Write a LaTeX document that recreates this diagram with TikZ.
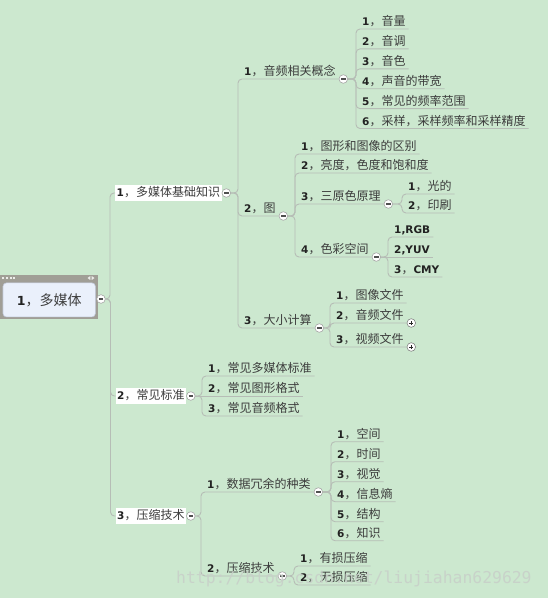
\documentclass[tikz,border=0pt]{standalone}
\usepackage{fontspec}
\usetikzlibrary{calc}
\newfontfamily\cjkf{Noto Sans CJK SC}
\newfontfamily\latf{DejaVu Sans}
\newfontfamily\wmf{DejaVu Sans Mono}
\definecolor{bgc}{RGB}{204,232,207}
\definecolor{linec}{RGB}{182,189,182}
\definecolor{txtc}{RGB}{60,60,60}
\definecolor{numc}{RGB}{34,34,34}
\definecolor{framec}{RGB}{160,158,150}
\definecolor{innerc}{RGB}{234,240,251}
\definecolor{innerb}{RGB}{196,204,222}
\definecolor{btnb}{RGB}{165,165,165}
\definecolor{btnm}{RGB}{80,80,80}
\definecolor{wmc}{RGB}{200,208,201}
\newcommand\nm[1]{{\latf\bfseries\fontsize{10.5}{12}\selectfont\color{numc}#1}}
\begin{document}
\begin{tikzpicture}[x=1pt,y=-1pt,
 conn/.style={draw=linec, line width=0.9pt, rounded corners=4pt},
 item/.style={anchor=south west, inner xsep=3pt, inner ysep=0pt, text height=9.5pt, text depth=3pt, font=\cjkf\fontsize{12}{14}\selectfont, text=txtc},
 lone/.style={anchor=west, fill=white, inner xsep=1.5pt, inner ysep=1.5pt, text height=10pt, text depth=2.5pt, font=\cjkf\fontsize{12}{14}\selectfont, text=txtc},
 btn/.style={circle, draw=btnb, fill=white, line width=0.6pt, minimum size=8.6pt, inner sep=0pt, anchor=west},
 minusbtn/.style={btn, path picture={\draw[btnm, line width=1.3pt] ([xshift=-2.2pt]path picture bounding box.center) -- ([xshift=2.2pt]path picture bounding box.center);}},
 plusbtn/.style={btn, draw=black!55, line width=0.5pt, path picture={\draw[black!85, line width=0.9pt] ([xshift=-2.2pt]path picture bounding box.center) -- ([xshift=2.2pt]path picture bounding box.center) ([yshift=-2.2pt]path picture bounding box.center) -- ([yshift=2.2pt]path picture bounding box.center);}},
]
\fill[bgc] (0,0) rectangle (548,598);
\useasboundingbox (0,0) rectangle (548,598);

% root
\node[fill=framec, minimum width=97.7pt, minimum height=44pt, inner sep=0pt, anchor=north west] (rootf) at (0,275) {};
\node[fill=innerc, draw=innerb, line width=0.6pt, rounded corners=3.5pt, minimum width=92.4pt, minimum height=34pt, inner sep=0pt, anchor=north west, font=\cjkf\fontsize{14}{16}\selectfont, text=txtc] (root) at (2.7,282.6) {{\latf\bfseries\fontsize{12.5}{14}\selectfont\color{numc}1}，多媒体};
\foreach \dx in {3,6.8,10.6,14.4} \fill[white!80!framec] (\dx-1,277) rectangle (\dx+1,279);
\fill[white!80!framec] (87.5,278) -- (90.3,276) -- (90.3,280) -- cycle;
\fill[white!80!framec] (94.5,278) -- (91.7,276) -- (91.7,280) -- cycle;
\node[minusbtn, anchor=center] (croot) at (101,299) {};

% level 1
\node[lone] (A) at (115,193) {\nm{1}，多媒体基础知识};
\node[minusbtn] (cA) at (A.east) {};
\node[lone] (B) at (115.5,396) {\nm{2}，常见标准};
\node[minusbtn] (cB) at (B.east) {};
\node[lone] (C) at (115.5,516) {\nm{3}，压缩技术};
\node[minusbtn] (cC) at (C.east) {};
\foreach \n in {A,B,C} \draw[conn] (croot.east) -| ([xshift=-5pt]\n.west) -- (\n.west);

% level 2 under A
\node[item] (a1) at (241,79) {\nm{1}，音频相关概念};
\node[minusbtn] (ca1) at (a1.south east) {};
\node[item] (a2) at (241,216) {\nm{2}，图};
\node[minusbtn] (ca2) at (a2.south east) {};
\node[item] (a3) at (241,328) {\nm{3}，大小计算};
\node[minusbtn] (ca3) at (a3.south east) {};
\foreach \n in {a1,a2,a3} \draw[conn] (cA.east) -| ([xshift=-3pt]\n.south west) -- (\n.south east);

% under a1
\node[item] (a11) at (359,29) {\nm{1}，音量};
\node[item] (a12) at (359,48.9) {\nm{2}，音调};
\node[item] (a13) at (359,68.8) {\nm{3}，音色};
\node[item] (a14) at (359,88.7) {\nm{4}，声音的带宽};
\node[item] (a15) at (359,108.6) {\nm{5}，常见的频率范围};
\node[item] (a16) at (359,128.5) {\nm{6}，采样，采样频率和采样精度};
\foreach \n in {a11,a12,a13,a14,a15,a16} \draw[conn] (ca1.east) -| ([xshift=-3pt]\n.south west) -- (\n.south east);

% under a2
\node[item] (a21) at (298,154) {\nm{1}，图形和图像的区别};
\node[item] (a22) at (298,173) {\nm{2}，亮度，色度和饱和度};
\node[item] (a23) at (298,204) {\nm{3}，三原色原理};
\node[minusbtn] (ca23) at (a23.south east) {};
\node[item] (a24) at (298,257) {\nm{4}，色彩空间};
\node[minusbtn] (ca24) at (a24.south east) {};
\foreach \n in {a21,a22,a23,a24} \draw[conn] (ca2.east) -| ([xshift=-3pt]\n.south west) -- (\n.south east);

\node[item] (a231) at (405,194) {\nm{1}，光的};
\node[item] (a232) at (405,213) {\nm{2}，印刷};
\foreach \n in {a231,a232} \draw[conn] (ca23.east) -| ([xshift=-3pt]\n.south west) -- (\n.south east);

\node[item] (a241) at (391,237) {\nm{1,RGB}};
\node[item] (a242) at (391,257) {\nm{2,YUV}};
\node[item] (a243) at (391,277) {\nm{3}，\nm{CMY}};
\foreach \n in {a241,a243} \draw[conn] (ca24.east) -| ([xshift=-3pt]\n.south west) -- (\n.south east);
\draw[conn] (ca24.east) -- (a242.south east);

% under a3
\node[item] (a31) at (333,303) {\nm{1}，图像文件};
\node[item] (a32) at (333,323) {\nm{2}，音频文件};
\node[item] (a33) at (333,347) {\nm{3}，视频文件};
\foreach \n in {a31,a32,a33} \draw[conn] (ca3.east) -| ([xshift=-3pt]\n.south west) -- (\n.south east);
\node[plusbtn] (pa32) at (a32.south east) {};
\node[plusbtn] (pa33) at (a33.south east) {};

% under B
\node[item] (b1) at (205,376) {\nm{1}，常见多媒体标准};
\node[item] (b2) at (205,396) {\nm{2}，常见图形格式};
\node[item] (b3) at (205,416) {\nm{3}，常见音频格式};
\foreach \n in {b1,b3} \draw[conn] (cB.east) -| ([xshift=-3pt]\n.south west) -- (\n.south east);
\draw[conn] (cB.east) -- (b2.south east);

% under C
\node[item] (c1) at (204,492) {\nm{1}，数据冗余的种类};
\node[minusbtn] (cc1) at (c1.south east) {};
\node[item] (c2) at (204,576) {\nm{2}，压缩技术};
\node[minusbtn] (cc2) at (c2.south east) {};
\foreach \n in {c1,c2} \draw[conn] (cC.east) -| ([xshift=-3pt]\n.south west) -- (\n.south east);

\node[item] (c11) at (334,441.7) {\nm{1}，空间};
\node[item] (c12) at (334,461.7) {\nm{2}，时间};
\node[item] (c13) at (334,481.7) {\nm{3}，视觉};
\node[item] (c14) at (334,501.7) {\nm{4}，信息熵};
\node[item] (c15) at (334,521.7) {\nm{5}，结构};
\node[item] (c16) at (334,540.7) {\nm{6}，知识};
\foreach \n in {c11,c12,c13,c14,c15,c16} \draw[conn] (cc1.east) -| ([xshift=-3pt]\n.south west) -- (\n.south east);

\node[item] (c21) at (297,566) {\nm{1}，有损压缩};
\node[item] (c22) at (297,585) {\nm{2}，无损压缩};
\foreach \n in {c21,c22} \draw[conn] (cc2.east) -| ([xshift=-3pt]\n.south west) -- (\n.south east);

% watermark
\node[anchor=base west, inner sep=0pt, font=\wmf\fontsize{16.4}{20}\selectfont, text=wmc, text opacity=0.9] (wm) at (176,583) {http://blog.csdn.net/liujiahan629629};
\end{tikzpicture}
\end{document}
